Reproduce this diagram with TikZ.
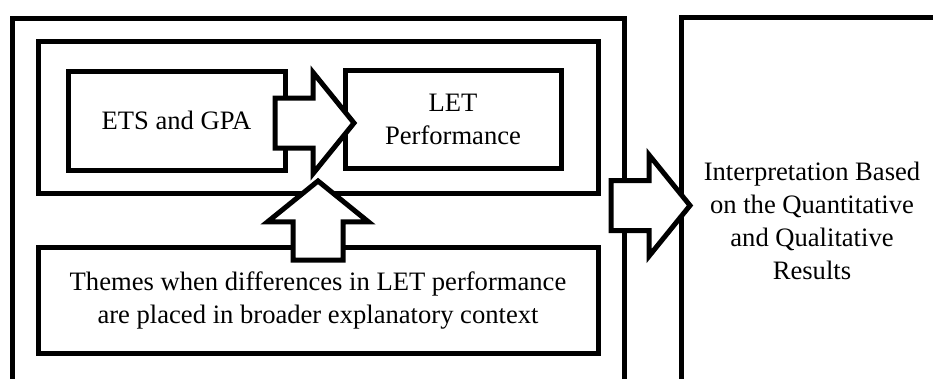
\documentclass[tikz,border=0pt]{standalone}
\usepackage{fontspec}
\setmainfont{Liberation Serif}
\usetikzlibrary{shapes.arrows,calc}

\tikzset{
  box/.style={draw, line width=5pt, align=center, inner sep=0pt},
  blockarrow/.style={draw, fill=white, line width=5pt, single arrow,
    minimum height=79pt, minimum width=96pt,
    single arrow head extend=25.5pt, single arrow tip angle=102,
    inner xsep=0pt, inner ysep=22.5pt, outer sep=0pt}
}

\begin{document}
\begin{tikzpicture}[x=1pt,y=-1pt,font=\fontsize{26.6}{33}\selectfont]

% Page area
\clip (0,0) rectangle (933,378);

% Outer frame and inner frame
\node[box, minimum width=612pt, minimum height=402pt] (outer) at (318,219) {};
\node[box, minimum width=560pt, minimum height=152pt] (frame) at (318,117) {};

% Predictors and outcome
\node[box, minimum width=217pt, minimum height=99pt] (ets) at (176.5,120.5) {ETS and GPA};
\node[box, minimum width=216pt, minimum height=98pt] (let) at (453,119) {LET\\Performance};

% Themes
\node[box, minimum width=560pt, minimum height=106pt] (themes) at (318,300)
  {Themes when differences in LET performance\\are placed in broader explanatory context};

% Interpretation
\node[box, minimum width=262pt, minimum height=408pt] (result) at (812,221)
  {Interpretation Based\\on the Quantitative\\and Qualitative\\Results};

% Block arrows
\node[blockarrow, anchor=tip] (etsarrow) at ($(let.west)+(11.5,4)$) {};
\node[blockarrow, anchor=tail, rotate=90] (themearrow) at ($(themes.north)+(0,15.5)$) {};
\node[blockarrow, anchor=tip] (resultarrow) at ($(result.west)+(11.5,-15.5)$) {};

\end{tikzpicture}
\end{document}
